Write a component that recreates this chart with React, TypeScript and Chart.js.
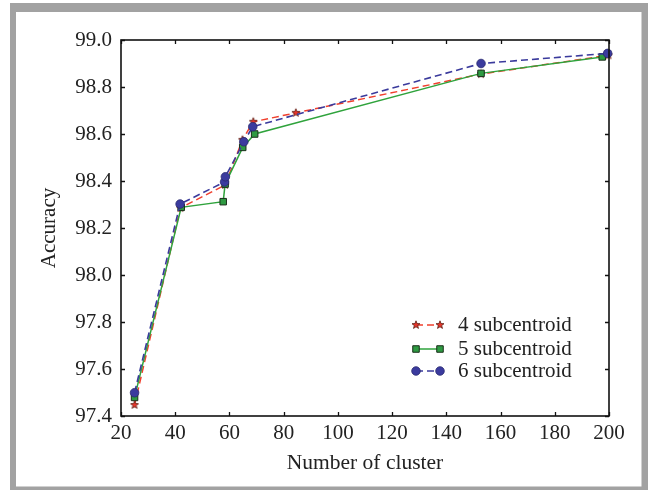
import React, { useEffect, useRef } from 'react';
import { Chart, registerables } from 'chart.js';

Chart.register(...registerables);

// ---- data ----
const seriesLabels = ['4 subcentroid', '5 subcentroid', '6 subcentroid'];

const clusters4 = [25, 41.9, 58.4, 64.8, 68.8, 84.5, 152.8, 199.8];
const accuracy4 = [97.447, 98.285, 98.383, 98.575, 98.652, 98.69, 98.855, 98.935];

const clusters5 = [25, 42.2, 57.7, 58.4, 64.9, 69.3, 152.8, 197.5];
const accuracy5 = [97.479, 98.288, 98.312, 98.387, 98.543, 98.6, 98.858, 98.928];

const clusters6 = [25, 41.8, 58.2, 58.5, 65.3, 68.6, 152.8, 199.5];
const accuracy6 = [97.499, 98.302, 98.396, 98.418, 98.567, 98.631, 98.9, 98.943];

const xMin = 20;
const xMax = 200;
const xStep = 20;
const yMin = 97.4;
const yMax = 99.0;
const yStep = 0.2;

const FONT = "'Liberation Serif', 'Times New Roman', serif";
const TEXT = '#222222';

function makeStar(fill: string, stroke: string, R: number): HTMLCanvasElement {
  const s = Math.ceil(R * 2 + 3);
  const c = document.createElement('canvas');
  c.width = s;
  c.height = s;
  const g = c.getContext('2d')!;
  g.beginPath();
  for (let i = 0; i < 10; i++) {
    const r = i % 2 === 0 ? R : R * 0.42;
    const a = -Math.PI / 2 + (i * Math.PI) / 5;
    g.lineTo(s / 2 + r * Math.cos(a), s / 2 + r * Math.sin(a));
  }
  g.closePath();
  g.fillStyle = fill;
  g.fill();
  g.lineWidth = 0.8;
  g.strokeStyle = stroke;
  g.stroke();
  return c;
}

function zip(xs: number[], ys: number[]) {
  return xs.map((x, i) => ({ x, y: ys[i] }));
}

const backgroundPlugin = {
  id: 'bgFrame',
  beforeDraw(chart: any) {
    const ctx = chart.ctx;
    const w = chart.width;
    const h = chart.height;
    ctx.save();
    ctx.fillStyle = '#ffffff';
    ctx.fillRect(0, 0, w, h);
    ctx.fillStyle = '#a2a2a2';
    ctx.fillRect(10, 3, w - 10, 9); // top
    ctx.fillRect(10, 3, 6, h - 3); // left
    ctx.fillRect(641.5, 3, w - 641.5, h - 3); // right
    ctx.fillRect(10, 486.5, w - 10, h - 486.5); // bottom
    ctx.restore();
  },
};

const framePlugin = {
  id: 'axesFrame',
  afterDraw(chart: any) {
    const ctx = chart.ctx;
    const { left, right, top, bottom } = chart.chartArea;
    const xs = chart.scales.x;
    const ys = chart.scales.y;
    ctx.save();
    ctx.strokeStyle = '#111111';
    ctx.lineWidth = 1.3;
    ctx.setLineDash([]);
    // inward ticks
    const tl = 4;
    ctx.beginPath();
    xs.ticks.forEach((t: any) => {
      const p = Math.round(xs.getPixelForValue(t.value)) + 0.5;
      ctx.moveTo(p, bottom);
      ctx.lineTo(p, bottom - tl);
      ctx.moveTo(p, top);
      ctx.lineTo(p, top + tl);
    });
    ys.ticks.forEach((t: any) => {
      const p = Math.round(ys.getPixelForValue(t.value)) + 0.5;
      ctx.moveTo(left, p);
      ctx.lineTo(left + tl, p);
      ctx.moveTo(right, p);
      ctx.lineTo(right - tl, p);
    });
    ctx.stroke();
    ctx.lineWidth = 1.6;
    ctx.strokeRect(left, top, right - left, bottom - top);
    ctx.restore();
  },
};

const legendPlugin = {
  id: 'innerLegend',
  afterDraw(chart: any) {
    const ctx = chart.ctx;
    const { right, bottom } = chart.chartArea;
    const x1 = right - 193;
    const x2 = right - 169;
    const tx = right - 151;
    const rows = [bottom - 91, bottom - 67, bottom - 45];
    chart.data.datasets.forEach((ds: any, i: number) => {
      const y = rows[i];
      ctx.save();
      ctx.strokeStyle = ds.borderColor;
      ctx.lineWidth = ds.borderWidth;
      ctx.setLineDash(ds.borderDash || []);
      ctx.beginPath();
      ctx.moveTo(x1, y);
      ctx.lineTo(x2, y);
      ctx.stroke();
      ctx.setLineDash([]);
      [x1, x2].forEach((px) => {
        const st = ds.pointStyle;
        if (st instanceof HTMLCanvasElement) {
          ctx.drawImage(st, px - st.width / 2, y - st.height / 2);
        } else {
          ctx.fillStyle = ds.pointBackgroundColor;
          ctx.strokeStyle = ds.pointBorderColor;
          ctx.lineWidth = ds.pointBorderWidth;
          ctx.beginPath();
          if (st === 'rect') {
            const s = Math.SQRT1_2 * ds.pointRadius;
            ctx.rect(px - s, y - s, 2 * s, 2 * s);
          } else {
            ctx.arc(px, y, ds.pointRadius, 0, Math.PI * 2);
          }
          ctx.fill();
          ctx.stroke();
        }
      });
      ctx.fillStyle = TEXT;
      ctx.font = `21px ${FONT}`;
      ctx.textBaseline = 'middle';
      ctx.textAlign = 'left';
      ctx.fillText(ds.label, tx, y);
      ctx.restore();
    });
  },
};

export default function App() {
  const ref = useRef<HTMLCanvasElement | null>(null);

  useEffect(() => {
    if (!ref.current) return;
    const star = makeStar('#e8352b', '#5a1e14', 4.2);
    const chart = new Chart(ref.current, {
      type: 'line',
      data: {
        datasets: [
          {
            label: seriesLabels[0],
            data: zip(clusters4, accuracy4),
            borderColor: '#f0402e',
            borderWidth: 1.5,
            borderDash: [7, 4],
            pointStyle: star as any,
            pointRadius: 4,
            pointBackgroundColor: '#e8352b',
            pointBorderColor: '#5a1e14',
            pointBorderWidth: 0.8,
            tension: 0,
            fill: false,
            order: 3,
            clip: false as any,
          },
          {
            label: seriesLabels[1],
            data: zip(clusters5, accuracy5),
            borderColor: '#2fa33c',
            borderWidth: 1.5,
            pointStyle: 'rect',
            pointRadius: 4.6,
            pointBackgroundColor: '#2e9a42',
            pointBorderColor: '#1a2e1a',
            pointBorderWidth: 1,
            tension: 0,
            fill: false,
            order: 2,
            clip: false as any,
          },
          {
            label: seriesLabels[2],
            data: zip(clusters6, accuracy6),
            borderColor: '#3a3a9c',
            borderWidth: 1.6,
            borderDash: [7, 4],
            pointStyle: 'circle',
            pointRadius: 4.3,
            pointBackgroundColor: '#3b3b9e',
            pointBorderColor: '#2a2a70',
            pointBorderWidth: 0.8,
            tension: 0,
            fill: false,
            order: 1,
            clip: false as any,
          },
        ],
      },
      options: {
        responsive: false,
        animation: false,
        devicePixelRatio: 1,
        layout: { padding: { left: 0, top: 40, right: 39, bottom: 0 } },
        plugins: {
          legend: { display: false },
          tooltip: { enabled: false },
          title: { display: false },
        },
        scales: {
          x: {
            type: 'linear',
            min: xMin,
            max: xMax,
            grid: { display: false, drawTicks: false },
            border: { display: false },
            ticks: {
              stepSize: xStep,
              padding: 5,
              color: TEXT,
              font: { family: FONT, size: 21 },
              maxRotation: 0,
              callback: (v: any) => String(v),
            },
            title: {
              display: true,
              text: 'Number of cluster',
              color: TEXT,
              font: { family: FONT, size: 21.5 },
              padding: { top: 0, bottom: 14 },
            },
            afterFit: (s: any) => {
              s.height = 74;
            },
          },
          y: {
            type: 'linear',
            min: yMin,
            max: yMax,
            grid: { display: false, drawTicks: false },
            border: { display: false },
            ticks: {
              stepSize: yStep,
              padding: 9,
              color: TEXT,
              font: { family: FONT, size: 21 },
              callback: (v: any) => Number(v).toFixed(1),
            },
            title: {
              display: true,
              text: 'Accuracy',
              color: TEXT,
              font: { family: FONT, size: 21 },
              padding: { top: 37, bottom: 0 },
            },
            afterFit: (s: any) => {
              s.width = 121;
            },
          },
        },
      },
      plugins: [backgroundPlugin, framePlugin, legendPlugin],
    });
    return () => chart.destroy();
  }, []);

  return (
    <div style={{ position: 'absolute', left: 0, top: 0, width: 648, height: 490, background: '#fff' }}>
      <canvas ref={ref} width={648} height={490} style={{ display: 'block', width: 648, height: 490 }} />
    </div>
  );
}
